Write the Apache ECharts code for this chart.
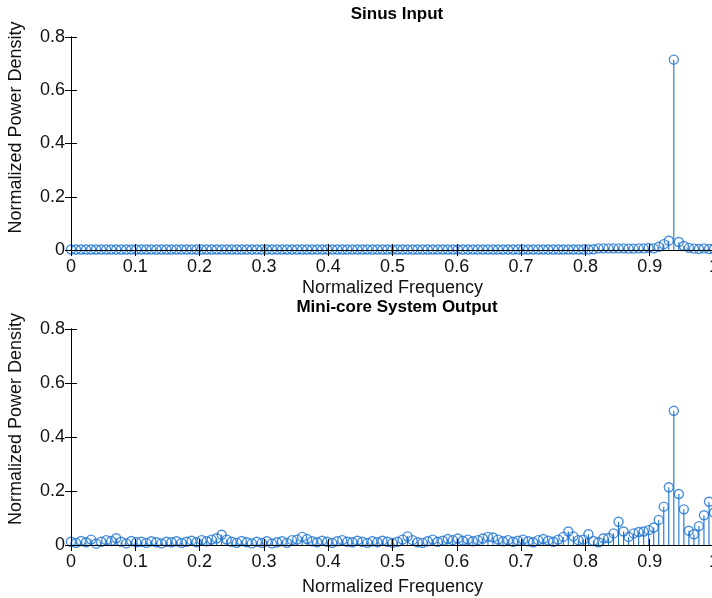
<!DOCTYPE html>
<html>
<head>
<meta charset="utf-8">
<script src="https://cdn.jsdelivr.net/npm/echarts@6/dist/echarts.min.js"></script>
<style>
html,body{margin:0;padding:0;background:#fff;}
#chart{width:712px;height:598px;}
</style>
</head>
<body>
<div id="chart"></div>
<script>
// Frequency bins (normalized, 0..1 in 128 steps)
const binCount = 128;
const freqs = Array.from({length: binCount + 1}, (_, i) => i / binCount);

const titles = ['Sinus Input', 'Mini-core System Output'];
const xTickLabels = ['0','0.1','0.2','0.3','0.4','0.5','0.6','0.7','0.8','0.9','1'];
const yTickLabels = ['0','0.2','0.4','0.6','0.8'];

// Sinus input PSD
const sinusInput = [
  0.002,0.002,0.002,0.002,0.002,0.002,0.002,0.002,0.002,0.002,
  0.002,0.002,0.002,0.002,0.002,0.002,0.002,0.002,0.002,0.002,
  0.002,0.002,0.002,0.002,0.002,0.002,0.002,0.002,0.002,0.002,
  0.002,0.002,0.002,0.002,0.002,0.002,0.002,0.002,0.002,0.002,
  0.002,0.002,0.002,0.002,0.002,0.002,0.002,0.002,0.002,0.002,
  0.002,0.002,0.002,0.002,0.002,0.002,0.002,0.002,0.002,0.002,
  0.002,0.002,0.002,0.002,0.002,0.002,0.002,0.002,0.002,0.002,
  0.002,0.002,0.002,0.002,0.002,0.002,0.002,0.002,0.002,0.002,
  0.002,0.002,0.002,0.002,0.002,0.002,0.002,0.002,0.002,0.002,
  0.002,0.002,0.002,0.002,0.002,0.002,0.002,0.002,0.002,0.002,
  0.002,0.002,0.002,0.002,0.003,0.006,0.006,0.006,0.006,0.006,
  0.006,0.005,0.005,0.006,0.006,0.008,0.006,0.012,0.022,0.035,
  0.715,0.03,0.015,0.008,0.005,0.004,0.006,0.004,0.004
];

// Mini-core system output PSD
const systemOutput = [
  0.012,0.008,0.015,0.010,0.020,0.005,0.012,0.018,0.015,0.025,
  0.012,0.006,0.015,0.010,0.012,0.008,0.014,0.010,0.006,0.012,
  0.010,0.014,0.008,0.012,0.016,0.010,0.018,0.014,0.020,0.025,
  0.038,0.020,0.012,0.008,0.015,0.010,0.006,0.012,0.008,0.014,
  0.006,0.010,0.014,0.008,0.018,0.020,0.030,0.022,0.014,0.010,
  0.016,0.012,0.008,0.014,0.018,0.012,0.010,0.016,0.012,0.008,
  0.014,0.010,0.016,0.012,0.008,0.012,0.020,0.032,0.018,0.010,
  0.008,0.014,0.020,0.012,0.016,0.022,0.018,0.024,0.016,0.020,
  0.014,0.018,0.024,0.030,0.028,0.020,0.014,0.018,0.012,0.016,
  0.020,0.014,0.010,0.018,0.022,0.016,0.012,0.020,0.030,0.050,
  0.032,0.018,0.020,0.040,0.015,0.010,0.025,0.026,0.043,0.086,
  0.050,0.030,0.043,0.048,0.050,0.055,0.065,0.093,0.142,0.214,
  0.497,0.189,0.132,0.053,0.040,0.070,0.110,0.160,0.120
];

const blue = '#1a72d0';
const fontFam = '"Liberation Sans",Arial,sans-serif';

function pairs(vals) { return freqs.map((f, i) => [f, vals[i]]); }

function stemSeries(gi, vals) {
  return {
    type: 'custom', xAxisIndex: gi * 2, yAxisIndex: gi * 2, z: 2, clip: false,
    data: pairs(vals),
    renderItem: function (params, api) {
      const p0 = api.coord([api.value(0), 0]);
      const p1 = api.coord([api.value(0), api.value(1)]);
      return { type: 'line', shape: {x1: p0[0], y1: p0[1], x2: p1[0], y2: p1[1]},
               style: {stroke: blue, lineWidth: 1.1} };
    }
  };
}
function markerSeries(gi, vals) {
  return {
    type: 'scatter', xAxisIndex: gi * 2, yAxisIndex: gi * 2, z: 3, clip: false,
    symbol: 'circle', symbolSize: 9,
    itemStyle: {color: 'rgba(255,255,255,0)', borderColor: blue, borderWidth: 1.4},
    data: pairs(vals)
  };
}

const grids = [
  {left: 71, top: 37, width: 643, height: 213, outerBoundsMode: 'none', containLabel: false},
  {left: 71, top: 329, width: 643, height: 216, outerBoundsMode: 'none', containLabel: false}
];
const xNameGaps = [29, 33];
const yNamePads = [[0, 0, 0, 32], [0, 0, 0, 36]];

const xAxes = [], yAxes = [];
grids.forEach((g, gi) => {
  xAxes.push({
    type: 'value', gridIndex: gi, position: 'bottom', min: 0, max: 1, interval: 0.1, z: 10,
    name: 'Normalized Frequency', nameLocation: 'middle', nameGap: xNameGaps[gi],
    nameTextStyle: {fontFamily: fontFam, fontSize: 18, color: '#111'},
    axisLine: {show: true, onZero: false, lineStyle: {color: '#000', width: 1}},
    axisTick: {show: true, inside: true, length: 6, lineStyle: {color: '#000'}},
    axisLabel: {margin: 8, fontFamily: fontFam, fontSize: 18, color: '#111',
                formatter: v => xTickLabels[Math.round(v * 10)]},
    splitLine: {show: false}
  });
  xAxes.push({
    type: 'value', gridIndex: gi, position: 'top', min: 0, max: 1, interval: 0.1, z: 10,
    axisLine: {show: true, lineStyle: {color: '#000', width: 1}},
    axisTick: {show: true, inside: true, length: 6, lineStyle: {color: '#000'}},
    axisLabel: {show: false}, splitLine: {show: false}
  });
  yAxes.push({
    type: 'value', gridIndex: gi, position: 'left', min: 0, max: 0.8, interval: 0.2, z: 10,
    name: 'Normalized Power Density', nameLocation: 'middle', nameGap: 46,
    nameTextStyle: {fontFamily: fontFam, fontSize: 18, color: '#111', padding: yNamePads[gi]},
    axisLine: {show: true, lineStyle: {color: '#000', width: 1}},
    axisTick: {show: true, inside: true, length: 6, lineStyle: {color: '#000'}},
    axisLabel: {margin: 6, fontFamily: fontFam, fontSize: 18, color: '#111',
                formatter: v => yTickLabels[Math.round(v * 5)]},
    splitLine: {show: false}
  });
  yAxes.push({
    type: 'value', gridIndex: gi, position: 'right', min: 0, max: 0.8, interval: 0.2, z: 10,
    axisLine: {show: true, lineStyle: {color: '#000', width: 1}},
    axisTick: {show: true, inside: true, length: 6, lineStyle: {color: '#000'}},
    axisLabel: {show: false}, splitLine: {show: false}
  });
});

const chart = echarts.init(document.getElementById('chart'), null, {renderer: 'canvas'});
chart.setOption({
  backgroundColor: '#fff',
  animation: false,
  title: [
    {text: titles[0], left: 392, top: 1, textAlign: 'center',
     textStyle: {fontFamily: fontFam, fontWeight: 'bold', fontSize: 17, color: '#000'}},
    {text: titles[1], left: 392, top: 294, textAlign: 'center',
     textStyle: {fontFamily: fontFam, fontWeight: 'bold', fontSize: 17, color: '#000'}}
  ],
  grid: grids,
  xAxis: xAxes,
  yAxis: yAxes,
  series: [
    stemSeries(0, sinusInput), markerSeries(0, sinusInput),
    stemSeries(1, systemOutput), markerSeries(1, systemOutput)
  ]
});
</script>
</body>
</html>
